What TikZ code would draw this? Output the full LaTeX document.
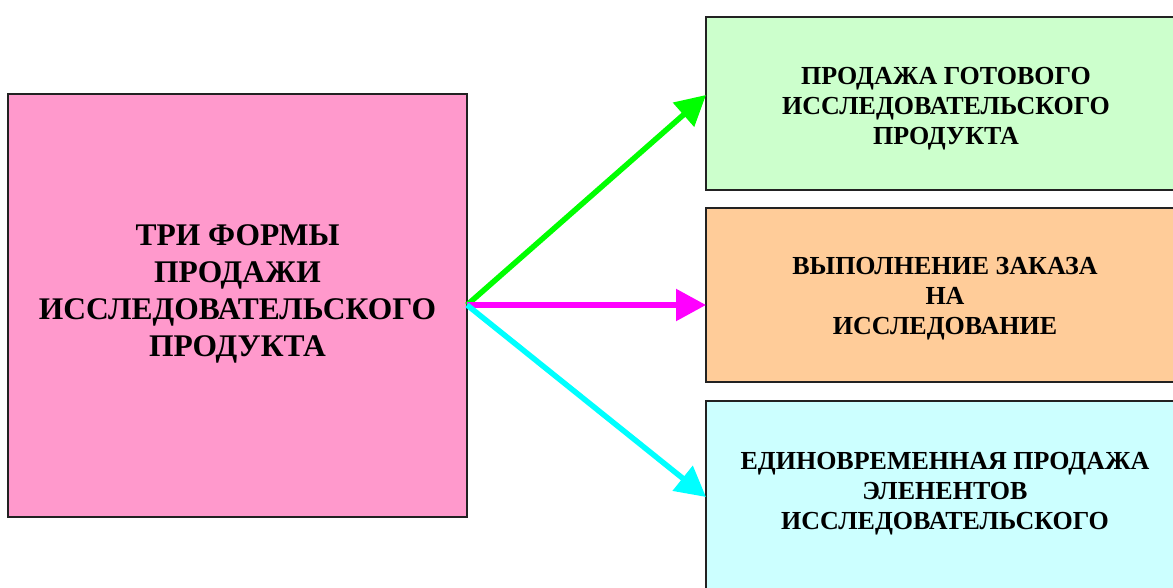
\documentclass[tikz,border=0pt]{standalone}
\usepackage{fontspec}
\setmainfont{Liberation Serif}
\usetikzlibrary{arrows.meta}
\definecolor{pinkfill}{HTML}{FF99CC}
\definecolor{greenfill}{HTML}{CCFFCC}
\definecolor{orangefill}{HTML}{FFCC99}
\definecolor{cyanfill}{HTML}{CCFFFF}
\definecolor{edge}{HTML}{222222}
\definecolor{greenline}{RGB}{0,255,0}
\definecolor{magentaline}{RGB}{255,0,255}
\definecolor{cyanline}{RGB}{0,255,255}
\begin{document}
\begin{tikzpicture}[x=1pt,y=1pt,
  panel/.style={draw=edge, line width=1.8pt, inner sep=0pt, outer sep=0pt, anchor=north west},
  bigtext/.style={align=center, font=\bfseries\fontsize{31.5}{37}\selectfont},
  smalltext/.style={align=center, font=\bfseries\fontsize{26}{30}\selectfont},
  link/.style={line width=5.5pt, -{Triangle[length=30pt,width=31pt]}}]
\useasboundingbox (0,0) rectangle (1173,588);
\clip (0,0) rectangle (1173,588);
% source panel
\node[panel, fill=pinkfill, minimum width=459pt, minimum height=423pt] (src) at (8,494) {};
\node[bigtext] (srctext) at (237.5,294) {ТРИ ФОРМЫ\\ПРОДАЖИ\\ИССЛЕДОВАТЕЛЬСКОГО\\ПРОДУКТА};
% target panels
\node[panel, fill=greenfill, minimum width=480pt, minimum height=173pt] (ready) at (706,571) {};
\node[smalltext] (readytext) at (946,479) {ПРОДАЖА ГОТОВОГО\\ИССЛЕДОВАТЕЛЬСКОГО\\ПРОДУКТА};
\node[panel, fill=orangefill, minimum width=480pt, minimum height=174pt] (order) at (706,380) {};
\node[smalltext] (ordertext) at (945,289) {ВЫПОЛНЕНИЕ ЗАКАЗА\\НА\\ИССЛЕДОВАНИЕ};
\node[panel, fill=cyanfill, minimum width=480pt, minimum height=220pt] (parts) at (706,187) {};
\node[smalltext] (partstext) at (945,94.5) {ЕДИНОВРЕМЕННАЯ ПРОДАЖА\\ЭЛЕНЕНТОВ\\ИССЛЕДОВАТЕЛЬСКОГО};
% connectors fan out from one point on the source's right edge
\coordinate (hub) at ([yshift=0.5pt]src.east);
\coordinate (readyin) at ([yshift=-78pt]ready.north west);
\coordinate (orderin) at ([yshift=-97pt]order.north west);
\coordinate (partsin) at ([yshift=-96pt]parts.north west);
\draw[link, draw=greenline, fill=greenline] (hub) -- (readyin);
\draw[link, draw=magentaline, fill=magentaline] (hub) -- (orderin);
\draw[link, draw=cyanline, fill=cyanline] (hub) -- (partsin);
\end{tikzpicture}
\end{document}
